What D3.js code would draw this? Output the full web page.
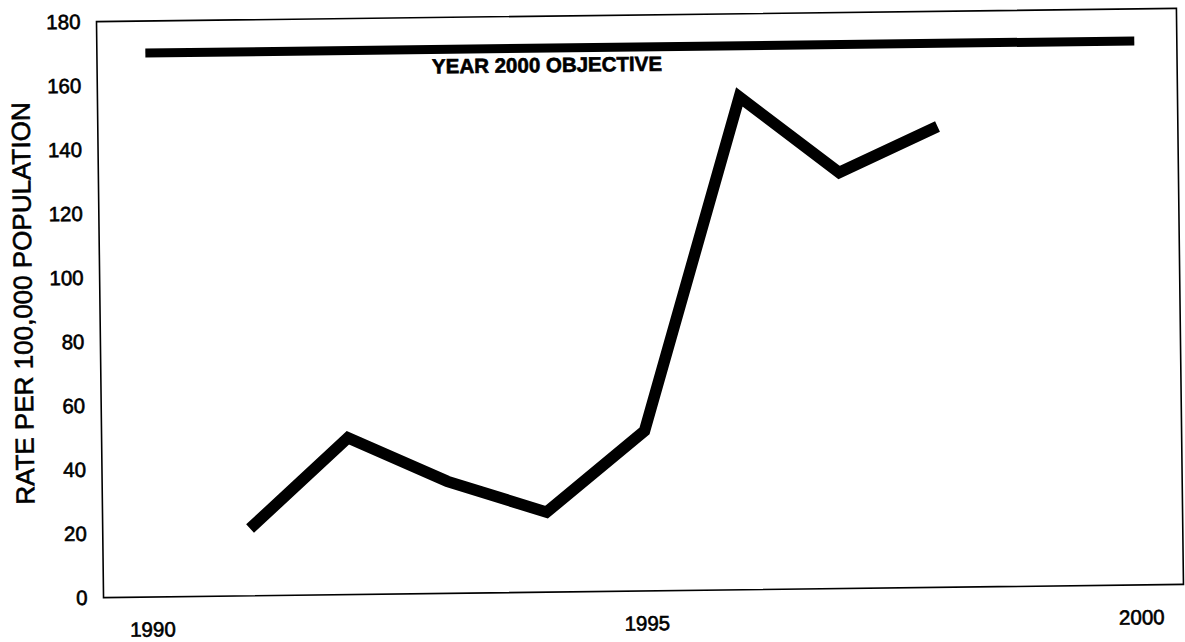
<!DOCTYPE html>
<html>
<head>
<meta charset="utf-8">
<script src="https://cdn.jsdelivr.net/npm/d3@7"></script>
<style>
  html, body { margin: 0; padding: 0; background: #fff; }
  svg { display: block; }
  text { font-family: "Liberation Sans", Arial, sans-serif; fill: #000; }
</style>
</head>
<body>
<svg id="chart" width="1185" height="642"></svg>
<script>
// Rate per 100,000 population, by year
const years = [1991, 1992, 1993, 1994, 1995, 1996, 1997, 1998];
const rates = [21, 49, 35, 25, 50, 154, 130, 144];

// Year 2000 objective
const objectiveYears = [1990, 2000];
const objectiveRate = 170;
const objectiveLabel = "YEAR 2000 OBJECTIVE";

// Axis ticks and extents
const yTicks = [0, 20, 40, 60, 80, 100, 120, 140, 160, 180];
const xTicks = [1990, 1995, 2000];
const xExtent = [1989.51, 2000.43];
const yExtent = [0, 180];
const yTitle = "RATE PER 100,000 POPULATION";

const svg = d3.select("#chart");
const frame = { left: 100, right: 1180, top: 15, bottom: 591 };

// the page is slightly tilted as a whole
const root = svg.append("g").attr("transform", "rotate(-0.7, 640, 305)");

const x = d3.scaleLinear().domain(xExtent).range([frame.left, frame.right]);
const y = d3.scaleLinear().domain(yExtent).range([frame.bottom, frame.top]);

// heavy, printed-looking text
function inked(sel, size, weight) {
  sel.style("font-family", '"Liberation Sans", Arial, sans-serif')
    .style("font-size", size + "px")
    .style("font-weight", weight || "normal")
    .attr("fill", "#000")
    .attr("stroke", "#000")
    .attr("stroke-width", 0.6)
    .attr("paint-order", "stroke");
}

// plot frame
root.append("rect")
  .attr("x", frame.left).attr("y", frame.top)
  .attr("width", frame.right - frame.left)
  .attr("height", frame.bottom - frame.top)
  .attr("fill", "none").attr("stroke", "#000").attr("stroke-width", 1.6);

// y axis labels
const yAxis = root.append("g")
  .attr("transform", `translate(${frame.left},0)`)
  .call(d3.axisLeft(y).tickValues(yTicks).tickSize(0).tickPadding(16));
yAxis.select(".domain").remove();
yAxis.selectAll("text").call(inked, 20.5);

// x axis labels
const xAxis = root.append("g")
  .attr("transform", `translate(0,${frame.bottom})`)
  .call(d3.axisBottom(x).tickValues(xTicks).tickSize(0).tickPadding(25).tickFormat(d3.format("d")));
xAxis.select(".domain").remove();
xAxis.selectAll("text").call(inked, 20.5);

// y axis title
root.append("text")
  .attr("transform", `translate(32,296) rotate(-90)`)
  .attr("text-anchor", "middle")
  .text(yTitle)
  .call(inked, 26);

// objective line
root.append("path")
  .datum(objectiveYears)
  .attr("d", d3.line().x(d => x(d)).y(() => y(objectiveRate)))
  .attr("fill", "none").attr("stroke", "#000").attr("stroke-width", 9);

root.append("text")
  .attr("x", x(d3.mean(objectiveYears)) - 93)
  .attr("y", y(objectiveRate) + 24)
  .attr("text-anchor", "middle")
  .text(objectiveLabel)
  .call(inked, 20.5, "bold");

// rate line
const series = years.map((yr, i) => ({ year: yr, rate: rates[i] }));
root.append("path")
  .datum(series)
  .attr("d", d3.line().x(d => x(d.year)).y(d => y(d.rate)))
  .attr("fill", "none").attr("stroke", "#000").attr("stroke-width", 11.5)
  .attr("stroke-linejoin", "miter").attr("stroke-miterlimit", 10);
</script>
</body>
</html>
